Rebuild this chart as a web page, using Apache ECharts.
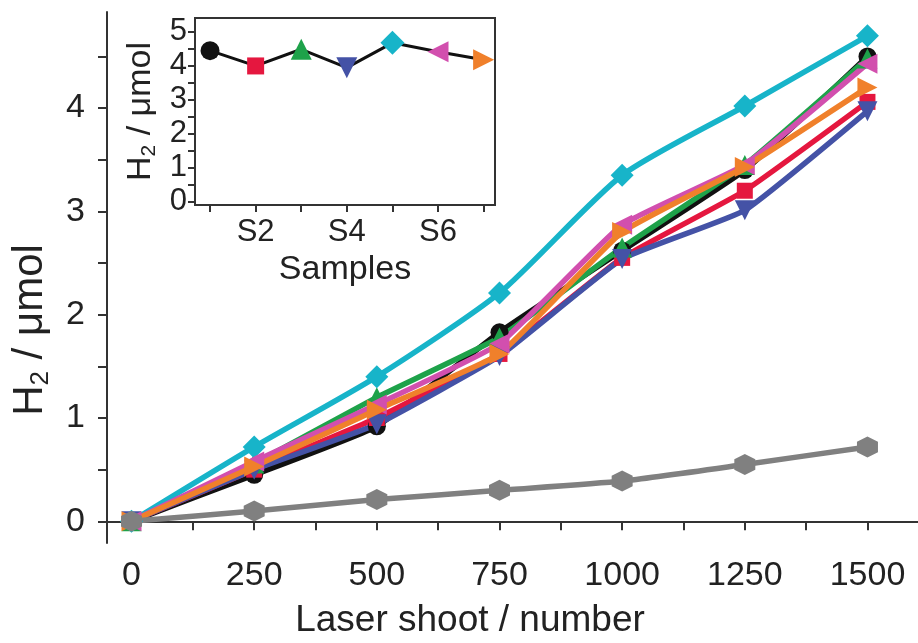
<!DOCTYPE html>
<html>
<head>
<meta charset="utf-8">
<script src="https://cdn.jsdelivr.net/npm/echarts@6/dist/echarts.min.js"></script>
<style>
  html, body { margin: 0; padding: 0; background: #fff; }
  #chart { width: 918px; height: 643px; }
</style>
</head>
<body>
<div id="chart"></div>
<script>
// Laser shot counts on the x axis
const shots = [0, 250, 500, 750, 1000, 1250, 1500];

// H2 evolved (µmol) for each sample
const s1 = [0, 0.45, 0.92, 1.83, 2.62, 3.40, 4.50];
const s2 = [0, 0.50, 1.00, 1.62, 2.55, 3.20, 4.06];
const s3 = [0, 0.56, 1.20, 1.78, 2.65, 3.45, 4.48];
const s4 = [0, 0.50, 0.94, 1.60, 2.54, 3.01, 3.97];
const s5 = [0, 0.72, 1.40, 2.21, 3.35, 4.02, 4.70];
const s6 = [0, 0.58, 1.13, 1.72, 2.87, 3.45, 4.43];
const s7 = [0, 0.53, 1.08, 1.62, 2.80, 3.43, 4.20];
const blank = [0, 0.10, 0.21, 0.30, 0.39, 0.55, 0.72];

// Inset: H2 after 1500 shots per sample
const sampleIdx = [1, 2, 3, 4, 5, 6, 7];
const sampleH2 = [4.45, 4.00, 4.49, 3.95, 4.68, 4.42, 4.18];

// Axis ticks and labels
const mainYTicks = [0, 0.5, 1, 1.5, 2, 2.5, 3, 3.5, 4, 4.5];
const mainYLabels = [0, 1, 2, 3, 4];
const mainXTicks = [0, 125, 250, 375, 500, 625, 750, 875, 1000, 1125, 1250, 1375, 1500];
const mainXLabels = [0, 250, 500, 750, 1000, 1250, 1500];
const insetYTicks = [0, 0.5, 1, 1.5, 2, 2.5, 3, 3.5, 4, 4.5, 5];
const insetYLabels = [0, 1, 2, 3, 4, 5];
const insetXLabels = [2, 4, 6];

const HEX = 'path://M0,-10 L8.66,-5 L8.66,5 L0,10 L-8.66,5 L-8.66,-5 Z';
const FONT = '"Liberation Sans", Arial, sans-serif';
const NARROW = '"Liberation Sans Narrow", "Liberation Sans", sans-serif';
const AX = '#333';

const styles = [
  { data: s1, color: '#111111', symbol: 'circle', rot: 0, size: 18 },
  { data: s2, color: '#e5173f', symbol: 'rect', rot: 0, size: 16 },
  { data: s3, color: '#1ea24a', symbol: 'triangle', rot: 0, size: 20 },
  { data: s4, color: '#4452a6', symbol: 'triangle', rot: 180, size: 20 },
  { data: s5, color: '#17b4c9', symbol: 'diamond', rot: 0, size: 23, smooth: 0.22 },
  { data: s6, color: '#d24fae', symbol: 'triangle', rot: 90, size: 20 },
  { data: s7, color: '#f0802b', symbol: 'triangle', rot: -90, size: 20 },
  { data: blank, color: '#808080', symbol: HEX, rot: 0, size: 21, smooth: 0.2 }
];

const mainSeries = styles.map(function (s) {
  return {
    type: 'line',
    xAxisIndex: 0,
    yAxisIndex: 0,
    data: shots.map(function (x, i) { return [x, s.data[i]]; }),
    symbol: s.symbol,
    symbolSize: s.size,
    symbolRotate: s.rot,
    smooth: s.smooth || 0.12,
    lineStyle: { color: s.color, width: 5.5 },
    itemStyle: { color: s.color },
    z: 2
  };
});

const insetData = sampleIdx.map(function (x, i) {
  const s = styles[i];
  return {
    value: [x, sampleH2[i]],
    symbol: s.symbol,
    symbolRotate: s.rot,
    symbolSize: s.size + 1,
    itemStyle: { color: s.color }
  };
});

const chart = echarts.init(document.getElementById('chart'), null, { renderer: 'canvas' });

chart.setOption({
  animation: false,
  backgroundColor: '#fff',
  textStyle: { fontFamily: FONT },
  grid: [
    { left: 107, right: 0, top: 12, bottom: 100 },
    { left: 195, top: 18, width: 300, height: 187, show: true, borderColor: AX, borderWidth: 2, backgroundColor: '#fff', z: 5 }
  ],
  xAxis: [
    {
      gridIndex: 0, type: 'value', min: -50, max: 1603,
      axisLine: { show: true, lineStyle: { color: AX, width: 2 } },
      axisTick: { show: true, inside: false, length: 9, customValues: mainXTicks, lineStyle: { color: AX, width: 2 } },
      axisLabel: { customValues: mainXLabels, formatter: function (v) { return String(v); }, fontSize: 34, color: '#222', margin: 16, fontFamily: NARROW },
      splitLine: { show: false }
    },
    {
      gridIndex: 1, type: 'value', min: 0.67, max: 7.25,
      axisLine: { show: true, onZero: false, lineStyle: { color: AX, width: 2 } },
      axisTick: { show: true, length: 7, customValues: sampleIdx, lineStyle: { color: AX, width: 2 } },
      axisLabel: { customValues: insetXLabels, formatter: function (v) { return 'S' + v; }, fontSize: 31, color: '#222', margin: 12 },
      splitLine: { show: false },
      name: 'Samples', nameLocation: 'middle', nameGap: 48,
      nameTextStyle: { fontSize: 34, color: '#222' }
    }
  ],
  yAxis: [
    {
      gridIndex: 0, type: 'value', min: -0.21, max: 4.93,
      axisLine: { show: true, onZero: false, lineStyle: { color: AX, width: 2 } },
      axisTick: { show: true, length: 9, customValues: mainYTicks, lineStyle: { color: AX, width: 2 } },
      axisLabel: { customValues: mainYLabels, fontSize: 34, color: '#222', margin: 22 },
      splitLine: { show: false }
    },
    {
      gridIndex: 1, type: 'value', min: -0.09, max: 5.41,
      axisLine: { show: true, onZero: false, lineStyle: { color: AX, width: 2 } },
      axisTick: { show: true, length: 7, customValues: insetYTicks, lineStyle: { color: AX, width: 2 } },
      axisLabel: { customValues: insetYLabels, fontSize: 31, color: '#222', margin: 8 },
      splitLine: { show: false },
      name: 'H{sub|2} / μmol', nameLocation: 'middle', nameGap: 35, nameRotate: 90,
      nameTextStyle: { fontSize: 34, color: '#222', rich: { sub: { fontSize: 21, padding: [18, 0, 0, 0], color: '#222' } } }
    }
  ],
  graphic: [
    {
      type: 'text', x: 30, y: 330, rotation: Math.PI / 2, z: 10,
      style: {
        text: 'H{sub|2} / μmol', fontSize: 42, fill: '#222', fontFamily: FONT,
        align: 'center', verticalAlign: 'middle',
        rich: { sub: { fontSize: 26, padding: [22, 0, 0, 0], fill: '#222' } }
      }
    },
    {
      type: 'text', x: 470, y: 621, z: 10,
      style: {
        text: 'Laser shoot / number', fontSize: 37, fill: '#222',
        fontFamily: NARROW,
        align: 'center', verticalAlign: 'middle'
      }
    }
  ],
  series: mainSeries.concat([
    {
      type: 'line', xAxisIndex: 1, yAxisIndex: 1, z: 10,
      data: insetData,
      lineStyle: { color: '#111', width: 3 },
      symbolSize: 20
    }
  ])
});
</script>
</body>
</html>
